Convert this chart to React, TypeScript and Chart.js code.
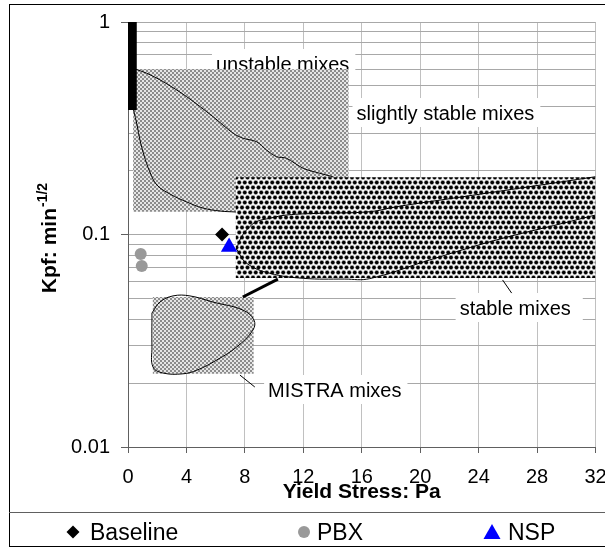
import React, { useEffect, useRef } from 'react';
import { Chart, registerables } from 'chart.js';

Chart.register(...registerables);

type P = { x: number; y: number };

const FONT = '"Liberation Sans", Arial, sans-serif';

// axes
const xTicks = [0, 4, 8, 12, 16, 20, 24, 28, 32];
const yMajorTicks = [0.01, 0.1, 1];
const yMinorTicks = [0.02, 0.03, 0.04, 0.05, 0.06, 0.07, 0.08, 0.09, 0.2, 0.3, 0.4, 0.5, 0.6, 0.7, 0.8, 0.9];

// measured mixes
const baselinePoints: P[] = [{ x: 6.44, y: 0.1 }];
const pbxPoints: P[] = [{ x: 0.87, y: 0.081 }, { x: 0.94, y: 0.0711 }];
const nspPoints: P[] = [{ x: 6.92, y: 0.0874 }];

// zones
const unstableBar: P[] = [{ x: 0, y: 1 }, { x: 0.6, y: 1 }, { x: 0.6, y: 0.385 }, { x: 0, y: 0.385 }, { x: 0, y: 1 }];
const unstableZone: P[] = [{ x: 0.35, y: 0.6 }, { x: 15.1, y: 0.6 }, { x: 15.1, y: 0.128 }, { x: 0.35, y: 0.128 }, { x: 0.35, y: 0.6 }];
const stableZone: P[] = [{ x: 7.38, y: 0.186 }, { x: 32, y: 0.186 }, { x: 32, y: 0.0624 }, { x: 7.38, y: 0.0624 }, { x: 7.38, y: 0.186 }];
const mistraZone: P[] = [{ x: 1.7, y: 0.0508 }, { x: 8.6, y: 0.0508 }, { x: 8.6, y: 0.0221 }, { x: 1.7, y: 0.0221 }, { x: 1.7, y: 0.0508 }];

// boundary curves
const unstableUpper: P[] = [
  { x: 0.48, y: 0.601 }, { x: 1.28, y: 0.574 }, { x: 2.41, y: 0.524 }, { x: 4.02, y: 0.445 },
  { x: 5.83, y: 0.358 }, { x: 7.2, y: 0.2995 }, { x: 7.88, y: 0.2836 }, { x: 8.8, y: 0.2734 },
  { x: 9.48, y: 0.2498 }, { x: 10.17, y: 0.2323 }, { x: 10.85, y: 0.2284 }, { x: 11.99, y: 0.2049 },
  { x: 13.13, y: 0.1941 }, { x: 14.02, y: 0.187 },
];
const unstableLower: P[] = [
  { x: 0.38, y: 0.3854 }, { x: 0.62, y: 0.3275 }, { x: 0.82, y: 0.2784 }, { x: 1.09, y: 0.2366 },
  { x: 1.5, y: 0.1968 }, { x: 1.98, y: 0.171 }, { x: 2.87, y: 0.1551 }, { x: 4.03, y: 0.1422 },
  { x: 5.13, y: 0.1332 }, { x: 6.29, y: 0.129 }, { x: 7.38, y: 0.1276 },
];
const stableUpper: P[] = [
  { x: 7.42, y: 0.0855 }, { x: 7.77, y: 0.0976 }, { x: 8.22, y: 0.1069 }, { x: 8.79, y: 0.1149 },
  { x: 9.71, y: 0.1192 }, { x: 10.85, y: 0.1235 }, { x: 13.13, y: 0.1258 }, { x: 16.55, y: 0.128 },
  { x: 18.37, y: 0.1351 }, { x: 22.93, y: 0.1506 }, { x: 27.49, y: 0.1679 }, { x: 32, y: 0.187 },
];
const stableLower: P[] = [
  { x: 7.42, y: 0.0855 }, { x: 8.12, y: 0.0732 }, { x: 9.71, y: 0.0657 }, { x: 11.99, y: 0.0622 },
  { x: 14.84, y: 0.0617 }, { x: 16.55, y: 0.062 }, { x: 20.65, y: 0.0759 }, { x: 25.21, y: 0.0942 },
  { x: 29.76, y: 0.1129 }, { x: 32, y: 0.1235 },
];
const mistraOutline: P[] = [
  { x: 1.64, y: 0.0427 }, { x: 2.19, y: 0.0481 }, { x: 3.08, y: 0.0514 }, { x: 4.24, y: 0.0514 },
  { x: 5.81, y: 0.0481 }, { x: 7.86, y: 0.0441 }, { x: 8.62, y: 0.0396 }, { x: 8.55, y: 0.0355 },
  { x: 7.45, y: 0.0296 }, { x: 6.09, y: 0.0257 }, { x: 4.72, y: 0.023 }, { x: 3.76, y: 0.0221 },
  { x: 2.39, y: 0.0223 }, { x: 1.71, y: 0.0238 }, { x: 1.64, y: 0.0296 }, { x: 1.64, y: 0.0427 },
];
const connector: P[] = [{ x: 7.86, y: 0.0508 }, { x: 10.26, y: 0.0617 }];
const leaderStable: P[] = [{ x: 25.64, y: 0.0611 }, { x: 26.26, y: 0.053 }];
const leaderMistra: P[] = [{ x: 7.66, y: 0.0218 }, { x: 8.68, y: 0.01916 }];

// text labels (anchored in data units: left edge, baseline)
const annotationTexts = ['unstable mixes', 'slightly stable mixes', 'stable mixes', 'MISTRA mixes'];
const annotationX = [6.02, 15.64, 22.7, 9.59];
const annotationY = [0.588, 0.3457, 0.0418, 0.01719];
const annotationPadRight = [6, 6, 12, 6];

const legendLabels = ['Baseline', 'PBX', 'NSP'];

function makeFinePattern(ctx: CanvasRenderingContext2D) {
  const c = document.createElement('canvas');
  c.width = 4;
  c.height = 4;
  const g = c.getContext('2d')!;
  g.fillStyle = '#e6e6e6';
  g.fillRect(0, 0, 4, 4);
  g.fillStyle = '#8c8c8c';
  g.fillRect(0, 0, 2, 2);
  g.fillRect(2, 2, 2, 2);
  return ctx.createPattern(c, 'repeat')!;
}

function makeCoarsePattern(ctx: CanvasRenderingContext2D) {
  const w = 11;
  const h = 10;
  const c = document.createElement('canvas');
  c.width = w;
  c.height = h;
  const g = c.getContext('2d')!;
  g.fillStyle = '#ffffff';
  g.fillRect(0, 0, w, h);
  const base = [[2.75, 2.5], [8.25, 2.5], [0, 7.5], [5.5, 7.5]];
  const layers: [string, number][] = [['#a0a0a0', 2.4], ['#000000', 1.8]];
  for (const [color, r] of layers) {
    g.fillStyle = color;
    for (const [bx, by] of base) {
      for (const dx of [-w, 0, w]) {
        for (const dy of [-h, 0, h]) {
          g.beginPath();
          g.arc(bx + dx, by + dy, r, 0, Math.PI * 2);
          g.fill();
        }
      }
    }
  }
  return ctx.createPattern(c, 'repeat')!;
}

const annotationPlugin = {
  id: 'annotationBoxes',
  beforeDatasetsDraw(chart: any) {
    const { ctx, scales } = chart;
    ctx.save();
    ctx.font = `20px ${FONT}`;
    ctx.textBaseline = 'alphabetic';
    ctx.textAlign = 'left';
    annotationTexts.forEach((t, i) => {
      const px = scales.x.getPixelForValue(annotationX[i]);
      const py = scales.y.getPixelForValue(annotationY[i]);
      const w = ctx.measureText(t).width;
      ctx.fillStyle = '#ffffff';
      ctx.fillRect(px - 4, py - 22, w + 4 + annotationPadRight[i], 29);
      ctx.fillStyle = '#000000';
      ctx.fillText(t, px, py);
    });
    ctx.restore();
  },
};

const framePlugin = {
  id: 'frame',
  afterDraw(chart: any) {
    const { ctx, chartArea } = chart;
    ctx.save();
    // outer frame
    ctx.strokeStyle = '#000000';
    ctx.lineWidth = 1;
    ctx.strokeRect(9.5, 4.5, 620, 542);
    // legend separator
    ctx.strokeStyle = '#606060';
    ctx.beginPath();
    ctx.moveTo(9, 512.5);
    ctx.lineTo(605, 512.5);
    ctx.stroke();

    // legend
    const ly = 532;
    ctx.fillStyle = '#000000';
    ctx.beginPath();
    ctx.moveTo(73, ly - 6.5);
    ctx.lineTo(79.5, ly);
    ctx.lineTo(73, ly + 6.5);
    ctx.lineTo(66.5, ly);
    ctx.closePath();
    ctx.fill();
    ctx.fillStyle = '#999999';
    ctx.beginPath();
    ctx.arc(304, ly, 6, 0, Math.PI * 2);
    ctx.fill();
    ctx.fillStyle = '#0000ff';
    ctx.beginPath();
    ctx.moveTo(492, ly - 8);
    ctx.lineTo(500.5, ly + 7);
    ctx.lineTo(483.5, ly + 7);
    ctx.closePath();
    ctx.fill();
    ctx.fillStyle = '#000000';
    ctx.font = `23px ${FONT}`;
    ctx.textBaseline = 'alphabetic';
    ctx.textAlign = 'left';
    const lx = [90, 317, 508];
    legendLabels.forEach((l, i) => ctx.fillText(l, lx[i], 540));

    // y axis title with superscript
    const cy = (chartArea.top + chartArea.bottom) / 2 + 4;
    ctx.translate(55.5, cy);
    ctx.rotate(-Math.PI / 2);
    const main = 'Kpf: min';
    const sup = '-1/2';
    ctx.font = `bold 21px ${FONT}`;
    const mw = ctx.measureText(main).width;
    ctx.font = `bold 14px ${FONT}`;
    const sw = ctx.measureText(sup).width;
    const start = -(mw + sw) / 2;
    ctx.font = `bold 21px ${FONT}`;
    ctx.fillText(main, start, 0);
    ctx.font = `bold 14px ${FONT}`;
    ctx.fillText(sup, start + mw + 1, -9);
    ctx.restore();
  },
};

export default function App() {
  const ref = useRef<HTMLCanvasElement>(null);

  useEffect(() => {
    const canvas = ref.current!;
    const ctx = canvas.getContext('2d')!;
    const fine = makeFinePattern(ctx);
    const coarse = makeCoarsePattern(ctx);

    const zone = (data: P[], color: any, order: number) => ({
      data,
      backgroundColor: color,
      borderWidth: 0,
      pointRadius: 0,
      fill: 'shape',
      tension: 0,
      order,
    });
    const curve = (data: P[], width: number, order: number, tension = 0.4) => ({
      data,
      borderColor: '#000000',
      borderWidth: width,
      pointRadius: 0,
      fill: false,
      tension,
      order,
    });

    const yTickValues = [...yMajorTicks, ...yMinorTicks].sort((a, b) => a - b);

    const chart = new Chart(canvas, {
      type: 'line',
      data: {
        datasets: [
          {
            label: legendLabels[0],
            data: baselinePoints,
            showLine: false,
            pointStyle: 'rectRot',
            pointRadius: 7,
            pointBackgroundColor: '#000000',
            pointBorderColor: '#000000',
            pointBorderWidth: 0,
            order: 0,
          },
          {
            label: legendLabels[1],
            data: pbxPoints,
            showLine: false,
            pointStyle: 'circle',
            pointRadius: 6,
            pointBackgroundColor: '#999999',
            pointBorderColor: '#999999',
            pointBorderWidth: 0,
            order: 0,
          },
          {
            label: legendLabels[2],
            data: nspPoints,
            showLine: false,
            pointStyle: 'triangle',
            pointRadius: 9.5,
            pointBackgroundColor: '#0000ff',
            pointBorderColor: '#0000ff',
            pointBorderWidth: 0,
            order: 0,
          },
          curve(connector, 3, 3, 0),
          curve(leaderStable, 1, 3, 0),
          curve(leaderMistra, 1, 3, 0),
          curve(unstableUpper, 1, 4, 0.3),
          curve(unstableLower, 1, 4, 0.4),
          curve(stableUpper, 1, 4, 0.4),
          curve(stableLower, 1, 4, 0.4),
          curve(mistraOutline, 1, 4, 0.4),
          zone(unstableBar, '#000000', 6),
          zone(stableZone, coarse, 7),
          zone(mistraZone, fine, 8),
          zone(unstableZone, fine, 9),
        ] as any,
      },
      options: {
        responsive: false,
        animation: false,
        events: [],
        layout: { padding: { top: 22, right: 9, left: 0, bottom: 0 } },
        plugins: {
          legend: { display: false },
          tooltip: { enabled: false },
        },
        scales: {
          x: {
            type: 'linear',
            min: 0,
            max: 32,
            afterBuildTicks: (s: any) => {
              s.ticks = xTicks.map((v) => ({ value: v }));
            },
            afterFit: (s: any) => {
              s.height = 101;
              s.paddingLeft = 0;
              s.paddingRight = 0;
            },
            ticks: {
              font: { family: FONT, size: 20 },
              color: '#000000',
              padding: 12,
              autoSkip: false,
              maxRotation: 0,
            },
            grid: { color: '#c0c0c0', tickLength: 6, tickColor: '#606060' },
            border: { color: '#606060', width: 1 },
            title: {
              display: true,
              text: 'Yield Stress: Pa',
              font: { family: FONT, size: 21, weight: 'bold' },
              color: '#000000',
              padding: { top: 0, bottom: 43 },
            },
          },
          y: {
            type: 'logarithmic',
            min: 0.01,
            max: 1,
            afterBuildTicks: (s: any) => {
              s.ticks = yTickValues.map((v) => ({ value: v, major: yMajorTicks.includes(v) }));
            },
            afterFit: (s: any) => {
              s.width = 128;
              s.paddingTop = 0;
              s.paddingBottom = 0;
            },
            ticks: {
              callback: (v: any) => (yMajorTicks.includes(Number(v)) ? String(v) : ''),
              font: { family: FONT, size: 20 },
              color: '#000000',
              padding: 11,
              autoSkip: false,
            },
            grid: {
              color: '#a8a8a8',
              tickLength: 7,
              tickColor: (c: any) => (c.tick && yMajorTicks.includes(c.tick.value) ? '#606060' : 'rgba(0,0,0,0)'),
            },
            border: { color: '#606060', width: 1 },
          },
        },
      } as any,
      plugins: [annotationPlugin, framePlugin],
    });
    return () => chart.destroy();
  }, []);

  return (
    <div style={{ position: 'absolute', left: 0, top: 0, width: 605, height: 548, background: '#ffffff' }}>
      <canvas ref={ref} width={605} height={548} style={{ display: 'block' }} />
    </div>
  );
}
